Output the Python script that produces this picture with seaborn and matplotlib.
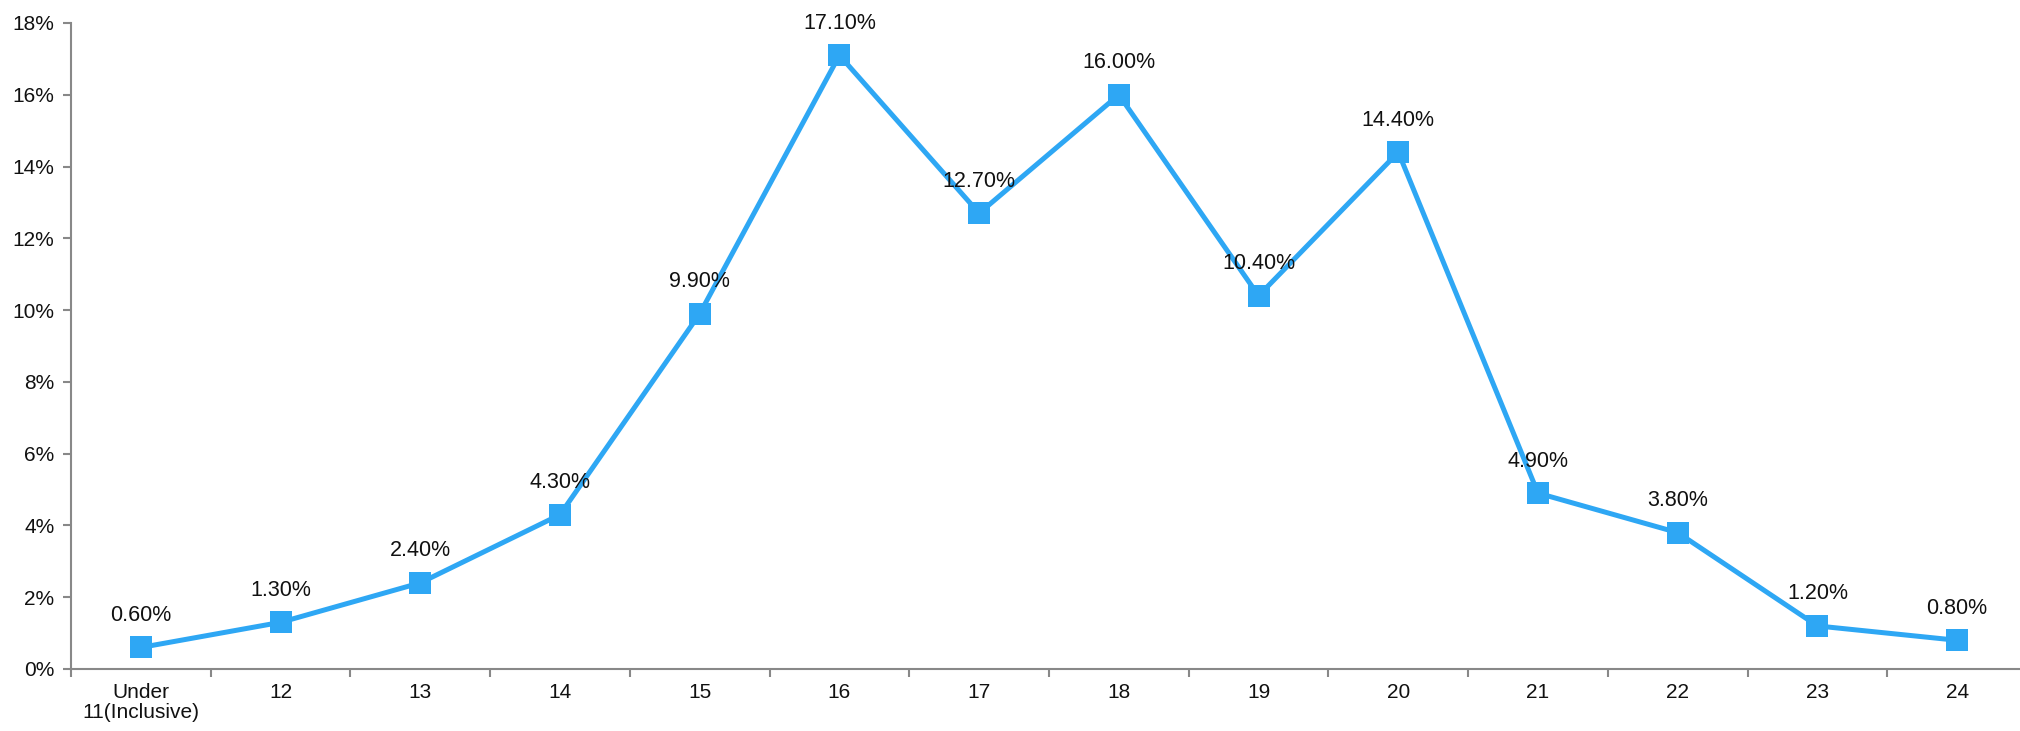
import matplotlib
matplotlib.use("Agg")
import matplotlib.pyplot as plt
from matplotlib.ticker import FuncFormatter, FixedLocator
import seaborn as sns
import pandas as pd
import numpy as np

# Age groups and their share (%)
ages = ["Under\n11(Inclusive)", "12", "13", "14", "15", "16", "17", "18",
        "19", "20", "21", "22", "23", "24"]
shares = [0.6, 1.3, 2.4, 4.3, 9.9, 17.1, 12.7, 16.0, 10.4, 14.4, 4.9, 3.8, 1.2, 0.8]

sns.set_theme(style="white")
plt.rcParams["font.family"] = ["Liberation Sans", "DejaVu Sans"]

df = pd.DataFrame({"pos": np.arange(len(ages)), "share": shares})

fig = plt.figure(figsize=(20.2, 7.31), dpi=100)
ax = fig.add_axes([71 / 2020, 62 / 731, 1956 / 2020, 646 / 731])

line_color = "#2EA7F4"
sns.lineplot(data=df, x="pos", y="share", ax=ax, color=line_color,
             linewidth=3.6, marker="s", markersize=15.5, markeredgewidth=0,
             markerfacecolor=line_color)

for x, y in zip(df["pos"], df["share"]):
    ax.annotate(f"{y:.2f}%", (x, y), xytext=(0, 23), textcoords="offset points",
                ha="center", va="center", fontsize=15.5, color="#111111")

ax.set_xlim(-0.5, len(ages) - 0.5)
ax.set_ylim(0, 18)
ax.set_yticks(np.arange(0, 19, 2))
ax.yaxis.set_major_formatter(FuncFormatter(lambda v, _: f"{v:.0f}%"))

ax.set_xticks(np.arange(len(ages)))
ax.set_xticklabels(ages, fontsize=15, color="#111111", linespacing=1.1)
ax.xaxis.set_minor_locator(FixedLocator(np.arange(-0.5, len(ages), 1.0)))
ax.tick_params(axis="x", which="major", length=0, pad=10)
ax.tick_params(axis="x", which="minor", length=6, width=1.5, color="#888888",
               direction="out", bottom=True)
ax.tick_params(axis="y", which="major", length=6, width=1.5, color="#888888",
               direction="out", left=True, labelsize=15, labelcolor="#111111", pad=6)

for side in ["top", "right"]:
    ax.spines[side].set_visible(False)
for side in ["left", "bottom"]:
    ax.spines[side].set_color("#888888")
    ax.spines[side].set_linewidth(1.5)

ax.set_xlabel("")
ax.set_ylabel("")
ax.grid(False)

fig.savefig("out.png", dpi=100)
